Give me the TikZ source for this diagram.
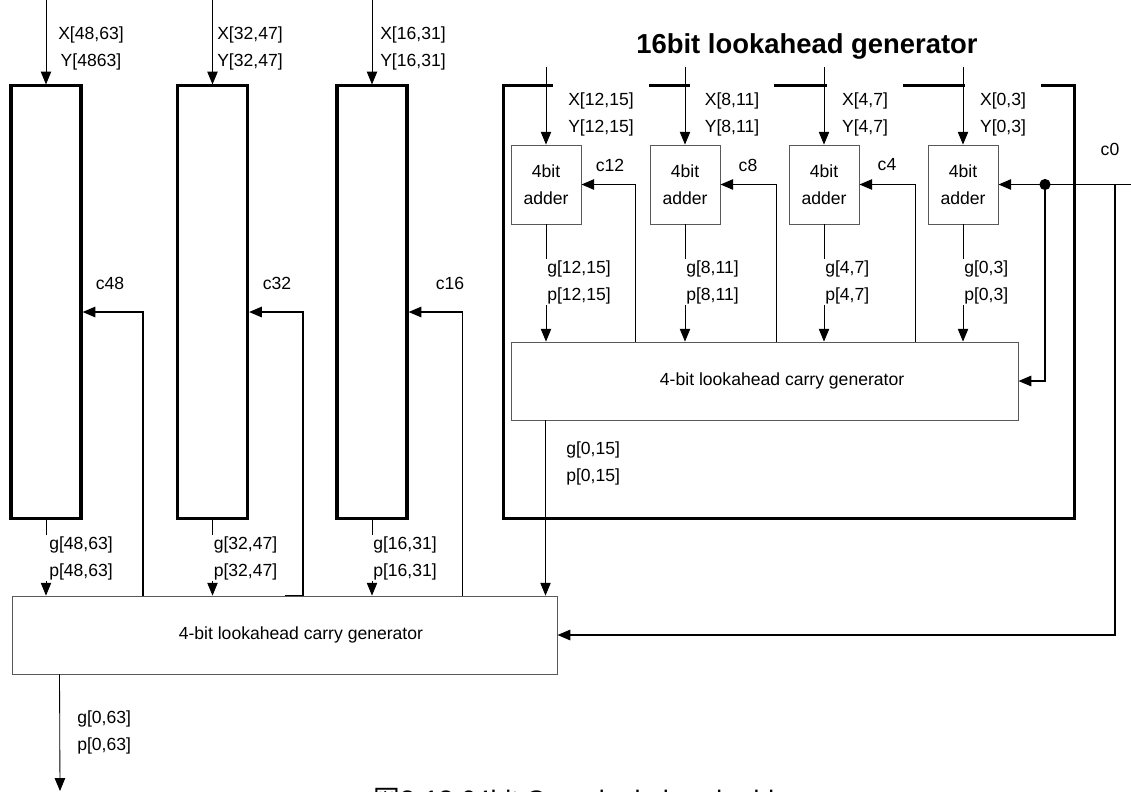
\documentclass[tikz,border=0pt]{standalone}
\usepackage{fontspec}
\setmainfont{Liberation Sans}
\newfontfamily\cjkfont{Noto Sans CJK JP}
\usepackage{tikz}
\usetikzlibrary{calc, positioning, arrows.meta}

\begin{document}
\begin{tikzpicture}[
  x=0.025cm, y=-0.025cm,
  >={Triangle[length=0.32cm, width=0.26cm]},
  font=\fontsize{12.5}{19.2}\selectfont,
  blk/.style={draw, line width=2.2pt, minimum width=1.75cm, minimum height=10.8cm, inner sep=0pt},
  grp/.style={draw, line width=2.2pt, minimum width=14.25cm, minimum height=10.8cm, inner sep=0pt},
  adder/.style={draw=black!65, line width=0.6pt, minimum width=1.75cm, minimum height=1.975cm, align=center, inner sep=0pt},
  lcg/.style={draw=black!65, line width=0.6pt, minimum height=1.95cm, inner sep=0pt},
  lbl/.style={align=center, inner sep=2pt},
  tlbl/.style={lbl, fill=white, inner xsep=0.375cm, inner ysep=0.25cm},
  gp/.style={anchor=west, align=left, fill=white, inner xsep=0.1cm, inner ysep=1pt},
  arr/.style={->, line width=0.6pt},
  carry/.style={->, line width=1.2pt}]
  \useasboundingbox (0,0) rectangle (1131,791);
  \clip (0,0) rectangle (1131,791);
  % 16-bit blocks
  \node[blk] (blk48) at (46,302) {};
  \node[blk] (blk32) at (212.5,302) {};
  \node[blk] (blk16) at (372,302) {};
  \node[grp] (grp0) at (789,302) {};
  \node[font=\fontsize{19.5}{23}\selectfont\bfseries] (title) at (807,46) {16bit lookahead generator};
  % operand labels
  \node[lbl] (xy48) at (91,48) {X[48,63]\\Y[4863]};
  \node[lbl] (xy32) at (250,48) {X[32,47]\\Y[32,47]};
  \node[lbl] (xy16) at (413,48) {X[16,31]\\Y[16,31]};
  \node[tlbl] (xy12) at (601,114.5) {X[12,15]\\Y[12,15]};
  \node[tlbl] (xy8) at (732,114.5) {X[8,11]\\Y[8,11]};
  \node[tlbl] (xy4) at (865,114.5) {X[4,7]\\Y[4,7]};
  \node[tlbl] (xy0) at (1003,114.5) {X[0,3]\\Y[0,3]};
  % 4bit adders
  \node[adder] (add12) at (546,184.5) {4bit\\adder};
  \node[adder] (add8) at (685,184.5) {4bit\\adder};
  \node[adder] (add4) at (824,184.5) {4bit\\adder};
  \node[adder] (add0) at (963,184.5) {4bit\\adder};
  % carry generators
  \node[lcg, minimum width=12.675cm, label={[name=t16, xshift=0.44cm]center:4-bit lookahead carry generator}] (lcg16) at (764.5,381) {};
  \node[lcg, minimum width=13.625cm, label={[name=t64, xshift=0.41cm]center:4-bit lookahead carry generator}] (lcg64) at (284.5,635) {};
  % inputs
  \coordinate (i48) at (46,0); \coordinate (i32) at (212.5,0); \coordinate (i16) at (372,0);
  \coordinate (i12) at (546,67); \coordinate (i8) at (685,67); \coordinate (i4) at (824,67); \coordinate (i0) at (963,67);
  \draw[arr] (i48) -- (blk48); \draw[arr] (i32) -- (blk32); \draw[arr] (i16) -- (blk16);
  \draw[arr] (i12) -- (add12); \draw[arr] (i8) -- (add8); \draw[arr] (i4) -- (add4); \draw[arr] (i0) -- (add0);
  % g,p down
  \draw[arr] (add12) -- (add12 |- lcg16.north); \draw[arr] (add8) -- (add8 |- lcg16.north);
  \draw[arr] (add4) -- (add4 |- lcg16.north); \draw[arr] (add0) -- (add0 |- lcg16.north);
  \draw[arr] (blk48) -- (blk48 |- lcg64.north); \draw[arr] (blk32) -- (blk32 |- lcg64.north);
  \draw[arr] (blk16) -- (blk16 |- lcg64.north);
  \coordinate (g15) at ($(lcg16.south west)+(35,0)$);
  \draw[arr] (g15) -- (g15 |- lcg64.north);
  \coordinate (g63) at ($(lcg64.south west)+(48,0)$); \coordinate (out) at (60,791);
  \draw[arr] (g63) -- (out);
  % carries back up
  \draw[carry] ($(lcg16.north west)+(125,0)$) |- (add12.east);
  \draw[carry] ($(lcg16.north west)+(266,0)$) |- (add8.east);
  \draw[carry] ($(lcg16.north west)+(405,0)$) |- (add4.east);
  \draw[carry] ($(lcg64.north west)+(131.5,0)$) |- ($(blk48.east)+(0,10)$);
  \draw[carry] ($(lcg64.north west)+(273,0)$) -- ++(18.5,0) |- ($(blk32.east)+(0,10)$);
  \draw[carry] ($(lcg64.north west)+(451,0)$) |- ($(blk16.east)+(0,10)$);
  % c0
  \coordinate (c0in) at (1131,184.5); \coordinate (jt) at (1115,184.5);
  \node[circle, fill, inner sep=0pt, minimum size=0.28cm] (jc) at (1045,184.5) {};
  \draw[carry] (c0in) -- (add0.east);
  \draw[carry] (jc) |- (lcg16.east);
  \draw[carry] (jt) |- (lcg64.east);
  % g,p labels
  \node[gp] (gp12) at (543,282) {g[12,15]\\p[12,15]};
  \node[gp] (gp8) at (682,282) {g[8,11]\\p[8,11]};
  \node[gp] (gp4) at (821,282) {g[4,7]\\p[4,7]};
  \node[gp] (gp0) at (960,282) {g[0,3]\\p[0,3]};
  \node[gp] (gp48) at (45,558) {g[48,63]\\p[48,63]};
  \node[gp] (gp32) at (209.5,558) {g[32,47]\\p[32,47]};
  \node[gp] (gp16) at (369,558) {g[16,31]\\p[16,31]};
  \node[gp, fill=none] (gp015) at (562,463) {g[0,15]\\p[0,15]};
  \node[gp, fill=none] (gp063) at (73,732) {g[0,63]\\p[0,63]};
  % carry labels
  \node (lc48) at (110,283) {c48}; \node (lc32) at (277,283) {c32}; \node (lc16) at (450,283) {c16};
  \node (lc12) at (610,165) {c12}; \node (lc8) at (748,165) {c8}; \node (lc4) at (887,165) {c4};
  \node (lc0) at (1110,149) {c0};
  % caption (cut by the page edge, as in the source)
  \node[anchor=base west, inner sep=0pt, font=\fontsize{19}{23}\selectfont] (cap) at (373,809) {{\cjkfont 図}3-18 64bit Carry lookahead adder};
\end{tikzpicture}
\end{document}
